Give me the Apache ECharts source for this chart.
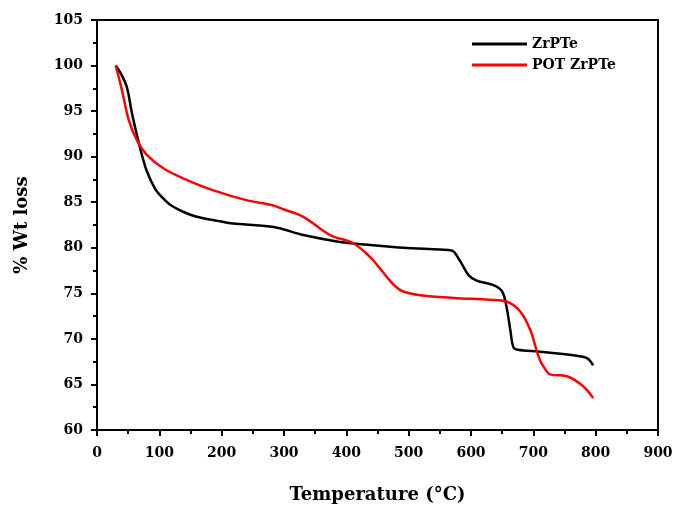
<!DOCTYPE html>
<html>
<head>
<meta charset="utf-8">
<script src="https://cdn.jsdelivr.net/npm/echarts@6/dist/echarts.min.js"></script>
<style>html,body{margin:0;padding:0;background:#fff}#c{width:676px;height:513px}</style>
</head>
<body>
<div id="c"></div>
<script>
var seriesNames = ['ZrPTe', 'POT ZrPTe'];
var xTicks = [0, 100, 200, 300, 400, 500, 600, 700, 800, 900];
var yTicks = [60, 65, 70, 75, 80, 85, 90, 95, 100, 105];

var zrTemp = [30, 40, 48, 56, 64, 72, 80, 93, 105, 118, 140, 160, 190, 214, 250, 289, 331, 385, 438, 491, 550, 569, 582, 596, 609, 636, 650, 657, 663, 668, 675, 711, 764, 786, 796];
var zrWt   = [100, 98.9, 97.6, 94.8, 92.4, 90.2, 88.4, 86.5, 85.5, 84.7, 83.9, 83.4, 83.0, 82.7, 82.5, 82.2, 81.4, 80.7, 80.3, 80.0, 79.8, 79.7, 78.6, 77.0, 76.4, 75.9, 75.2, 73.5, 71.0, 69.1, 68.8, 68.6, 68.2, 67.9, 67.1];

var potTemp = [30, 40, 51, 64, 80, 107, 139, 187, 241, 280, 300, 331, 374, 411, 438, 452, 465, 478, 491, 518, 572, 630, 657, 679, 695, 705, 711, 716, 727, 754, 780, 796];
var potWt   = [100, 97.3, 94.0, 91.8, 90.2, 88.7, 87.6, 86.3, 85.2, 84.7, 84.2, 83.4, 81.4, 80.5, 79.0, 77.9, 76.8, 75.8, 75.2, 74.8, 74.5, 74.3, 74.1, 73.0, 71.0, 68.8, 67.6, 67.0, 66.1, 65.9, 64.8, 63.5];

function pairs(xs, ys) { return xs.map(function (x, i) { return [x, ys[i]]; }); }

var font = 'DejaVu Serif';
var chart = echarts.init(document.getElementById('c'), null, { renderer: 'canvas' });
chart.setOption({
  animation: false,
  backgroundColor: '#fff',
  grid: { left: 97, right: 18, top: 20, bottom: 83, show: true, borderColor: '#000', borderWidth: 2, containLabel: false },
  legend: {
    orient: 'vertical', left: 467, top: 32, itemWidth: 55, itemHeight: 3, itemGap: 7,
    icon: 'rect',
    data: seriesNames,
    textStyle: { fontFamily: font, fontWeight: 'bold', fontSize: 14, color: '#000' }
  },
  xAxis: {
    type: 'value', min: xTicks[0], max: xTicks[xTicks.length - 1], interval: 100,
    name: 'Temperature (°C)', nameLocation: 'middle', nameGap: 56,
    nameTextStyle: { fontFamily: font, fontWeight: 'bold', fontSize: 18, color: '#000' },
    axisLine: { show: true, lineStyle: { color: '#000', width: 2 } },
    axisTick: { show: true, inside: false, length: 6, lineStyle: { color: '#000', width: 2 } },
    minorTick: { show: true, splitNumber: 2, length: 4, lineStyle: { color: '#000', width: 2 } },
    axisLabel: { margin: 16, fontFamily: font, fontWeight: 'bold', fontSize: 14, color: '#000' },
    splitLine: { show: false }
  },
  yAxis: {
    type: 'value', min: yTicks[0], max: yTicks[yTicks.length - 1], interval: 5,
    name: '% Wt loss', nameLocation: 'middle', nameGap: 66, nameRotate: 90,
    nameTextStyle: { fontFamily: font, fontWeight: 'bold', fontSize: 18, color: '#000' },
    axisLine: { show: true, lineStyle: { color: '#000', width: 2 } },
    axisTick: { show: true, inside: false, length: 6, lineStyle: { color: '#000', width: 2 } },
    minorTick: { show: true, splitNumber: 2, length: 4, lineStyle: { color: '#000', width: 2 } },
    axisLabel: { margin: 14, fontFamily: font, fontWeight: 'bold', fontSize: 14, color: '#000' },
    splitLine: { show: false }
  },
  series: [
    { name: seriesNames[0], type: 'line', data: pairs(zrTemp, zrWt), symbol: 'none', smooth: 0.35,
      lineStyle: { color: '#000', width: 2.5 }, itemStyle: { color: '#000' } },
    { name: seriesNames[1], type: 'line', data: pairs(potTemp, potWt), symbol: 'none', smooth: 0.35,
      lineStyle: { color: '#ff0000', width: 2.5 }, itemStyle: { color: '#ff0000' } }
  ]
});
</script>
</body>
</html>
